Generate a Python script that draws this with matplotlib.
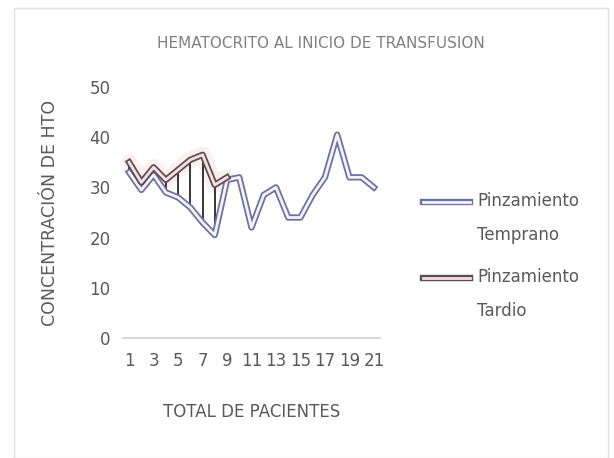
import matplotlib
matplotlib.use("Agg")
import matplotlib.pyplot as plt
from matplotlib.lines import Line2D
from matplotlib.patches import Rectangle

# datos
pacientes = list(range(1, 22))
temprano = [33, 29.5, 32.5, 29, 28, 26, 23, 20.5, 31.5, 32, 22, 28.5, 30, 24, 24,
            28.5, 32, 40.5, 32, 32, 30]
pacientes_tardio = list(range(1, 10))
tardio = [35, 31, 34, 31.5, 33.5, 35.5, 36.5, 30.5, 32]

x_ticks = list(range(1, 22, 2))
y_ticks = [0, 10, 20, 30, 40, 50]

titulo = "HEMATOCRITO AL INICIO DE TRANSFUSION"
eje_x = "TOTAL DE PACIENTES"
eje_y = "CONCENTRACIÓN DE HTO"
etiquetas = ["Pinzamiento\nTemprano", "Pinzamiento\nTardio"]

W, H = 614, 458
gris = "#595959"
azul_borde, azul_centro = "#6e739e", "#f3f3ff"
rojo_borde, rojo_centro = "#5a5054", "#f8dfe5"

fig = plt.figure(figsize=(W / 100, H / 100), dpi=100)
fig.patch.set_facecolor("white")


def fx(px):
    return px / W


def fy(py):
    return 1 - py / H


ax = fig.add_axes([fx(123), fy(338), fx(380) - fx(123), fy(87) - fy(338)])
ax.set_facecolor("white")

# hi-lo lines between the two series
n = len(tardio)
ax.vlines(pacientes_tardio, [min(a, b) for a, b in zip(temprano[:n], tardio)],
          [max(a, b) for a, b in zip(temprano[:n], tardio)], color="black", lw=1.1, zorder=2)

# soft pink glow under the late series
ax.plot(pacientes_tardio, tardio, color="#f2aabb", lw=12, alpha=0.18, zorder=1,
        solid_capstyle="round")

# double (compound) lines
for xs, ys, c1, c2, z in [(pacientes, temprano, azul_borde, azul_centro, 3),
                          (pacientes_tardio, tardio, rojo_borde, rojo_centro, 5)]:
    ax.plot(xs, ys, color=c1, lw=4.6, zorder=z, solid_joinstyle="round")
    ax.plot(xs, ys, color=c2, lw=2.0, zorder=z + 1, solid_joinstyle="round")

ax.set_xlim(0.5, 21.5)
ax.set_ylim(0, 50)
ax.set_xticks(x_ticks)
ax.set_xticklabels([str(v) for v in x_ticks])
ax.set_yticks(y_ticks)
ax.tick_params(axis="both", length=0, labelsize=12, colors=gris)
ax.tick_params(axis="x", pad=10)
ax.tick_params(axis="y", pad=9)
for s in ["top", "right", "left"]:
    ax.spines[s].set_visible(False)
ax.spines["bottom"].set_color("#d0d0d0")
ax.spines["bottom"].set_linewidth(1.2)

ax.set_xlabel(eje_x, fontsize=12, color=gris, labelpad=24)
ax.set_ylabel(eje_y, fontsize=12.5, color=gris, labelpad=22)

fig.text(fx(321), fy(43), titulo, ha="center", va="center", fontsize=11,
         color="#808080")

# legend drawn by hand so the handle sits on the first line of text
leg_y = [202, 278]
leg_cols = [(azul_borde, azul_centro), (rojo_borde, rojo_centro)]
for yy, (c1, c2), lab in zip(leg_y, leg_cols, etiquetas):
    fig.add_artist(Line2D([fx(423), fx(470)], [fy(yy), fy(yy)], color=c1, lw=4.6,
                          transform=fig.transFigure))
    fig.add_artist(Line2D([fx(423), fx(470)], [fy(yy), fy(yy)], color=c2, lw=2.0,
                          transform=fig.transFigure))
    fig.text(fx(477), fy(yy - 10), lab, ha="left", va="top", fontsize=12, color=gris,
             linespacing=2.15)

# faint chart-area border
fig.add_artist(Rectangle((fx(14), fy(458)), fx(608) - fx(14), fy(8) - fy(458),
                         transform=fig.transFigure, fill=False, edgecolor="#e0e0e0", lw=1))

fig.savefig("out.png", dpi=100)
